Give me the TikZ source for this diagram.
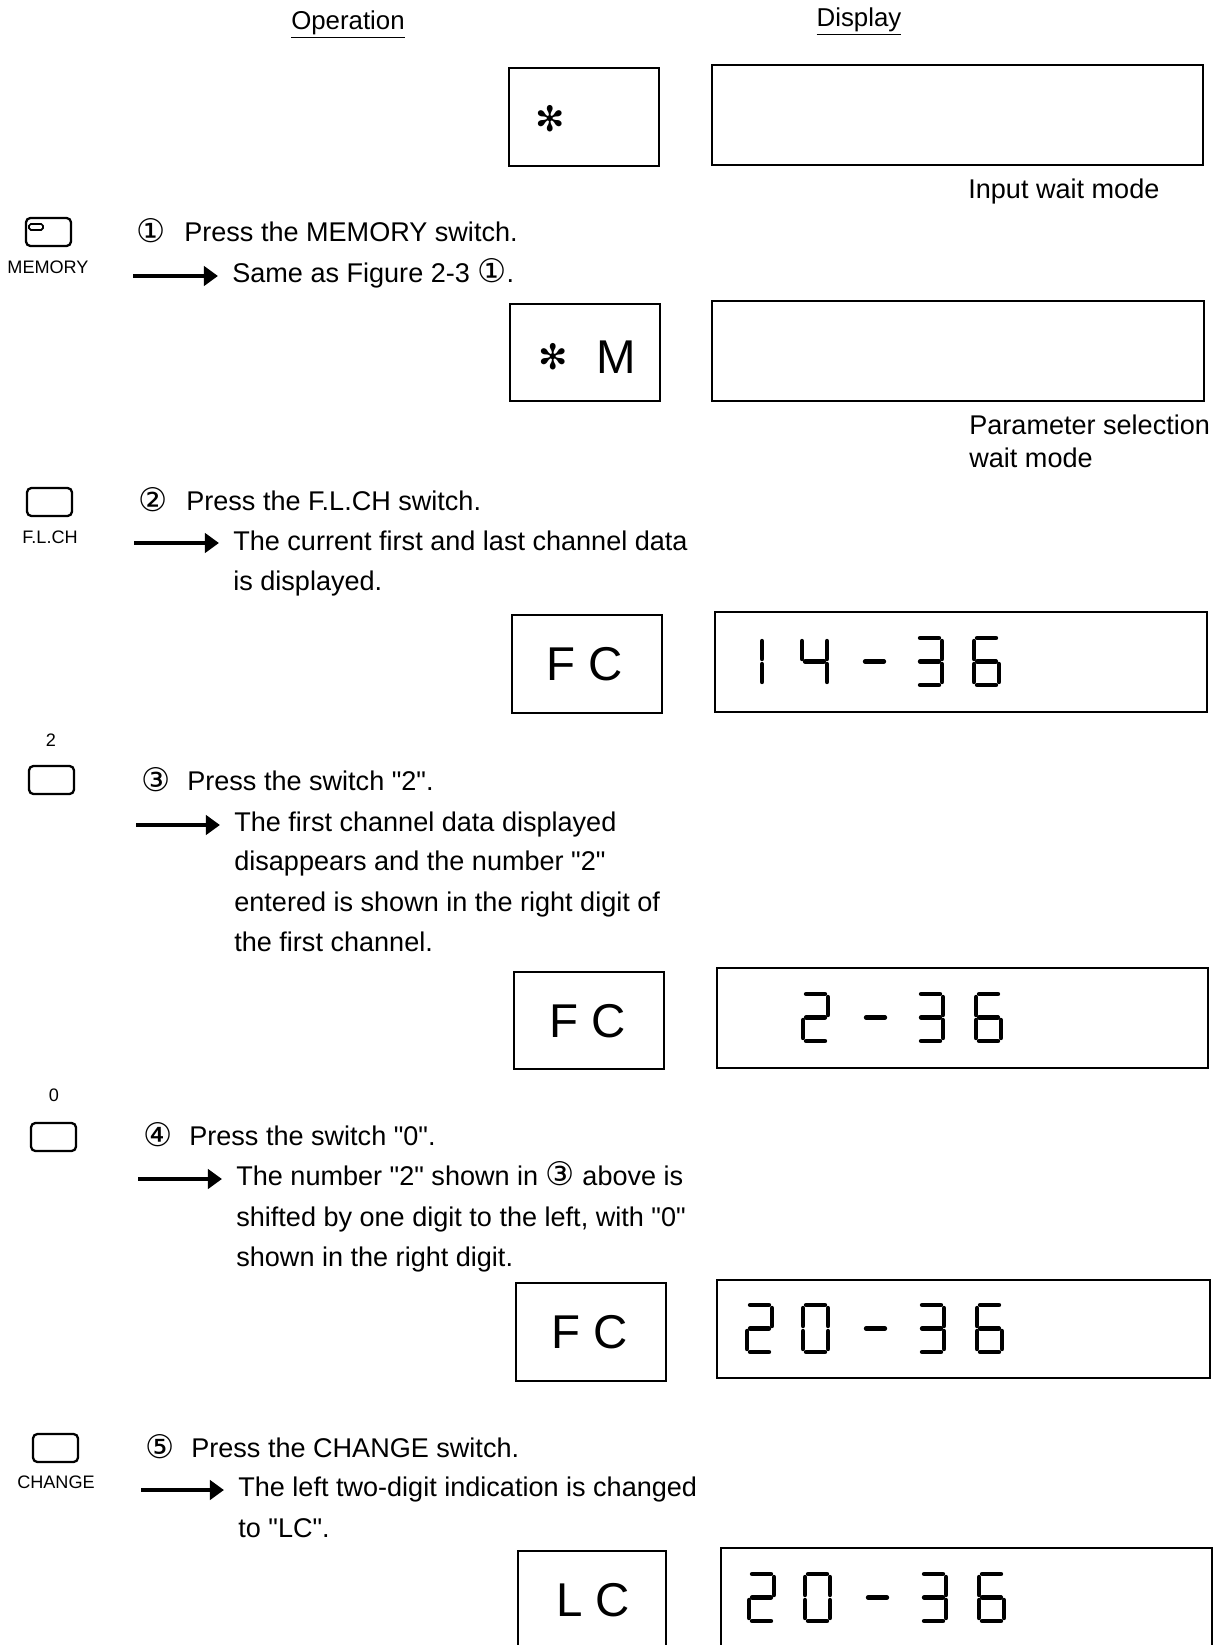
\documentclass[tikz,border=0pt]{standalone}
\usepackage{fontspec}
\setmainfont{Liberation Sans}[Ligatures=TeXOff]
\newfontfamily\dejavu{DejaVu Sans}
\usetikzlibrary{arrows.meta}

\tikzset{
	keybox/.style={draw, line width=1.3pt, rounded corners=2.5pt},
	dispbox/.style={draw, line width=1.1pt},
	segline/.style={line width=2.5pt, line cap=round},
	steparrow/.style={line width=2.3pt, shorten >=8pt, -{Triangle[length=8pt,width=11pt]}},
	steptext/.style={anchor=base west, inner sep=0pt, font=\fontsize{15.4}{18}\selectfont},
	stepnum/.style={steptext, font=\fontsize{18.5}{20}\selectfont\dejavu},
	headtext/.style={anchor=base, inner sep=0pt, font=\fontsize{14.7}{17}\selectfont},
	keylabel/.style={anchor=base, inner sep=0pt, font=\fontsize{10.3}{12}\selectfont},
	boxtext/.style={inner sep=0pt, font=\fontsize{27}{30}\selectfont},
	startext/.style={inner sep=0pt, font=\fontsize{20}{24}\selectfont\dejavu},
}

% one seven-segment digit, #1,#2 = top left of the cell, #3 = lit segments
\newcommand{\segdigit}[3]{%
	\begin{scope}[shift={(#1,#2)}]
		\coordinate (sega1) at (3,0);    \coordinate (sega2) at (22,0);
		\coordinate (segb1) at (25,3);   \coordinate (segb2) at (25,21);
		\coordinate (segc1) at (25,26);  \coordinate (segc2) at (25,44);
		\coordinate (segd1) at (3,47);   \coordinate (segd2) at (22,47);
		\coordinate (sege1) at (0,26);   \coordinate (sege2) at (0,44);
		\coordinate (segf1) at (0,3);    \coordinate (segf2) at (0,21);
		\coordinate (segg1) at (3,23.5); \coordinate (segg2) at (22,23.5);
		\foreach \s in {#3} \draw[segline] (seg\s1) -- (seg\s2);
	\end{scope}}

\begin{document}
\begin{tikzpicture}[x=0.02cm, y=-0.02cm]
	\useasboundingbox (0,0) rectangle (1216,1645);
	\clip (0,0) rectangle (1216,1645);

	% headings
	\node[headtext] (ophead) at (348,30) {\underline{Operation}};
	\node[headtext] (disphead) at (859,27) {\underline{Display}};

	% input wait mode
	\draw[dispbox] (509,68) rectangle (659,166);
	\draw[dispbox] (712,65) rectangle (1203,165);
	\node[startext] (star0) at (550,119) {✻};
	\node[steptext] (mode0) at (968,199) {Input wait mode};

	% step 1
	\draw[keybox] (26,218) rectangle (71,246);
	\draw[keybox, line width=1pt, rounded corners=1pt] (29,224) rectangle (43,230);
	\node[keylabel] (key1) at (48,274) {MEMORY};
	\node[stepnum] (num1) at (136,243) {①};
	\node[steptext] (step1) at (184,242) {Press the MEMORY switch.};
	\coordinate (arr1) at (133,276);
	\node[steptext] (res1a) at (232,283) {Same as Figure 2-3 {\dejavu\fontsize{18.5}{20}\selectfont ①}.};
	\draw[steparrow] (arr1) -- (arr1 -| res1a.west);

	\draw[dispbox] (510,304) rectangle (660,401);
	\draw[dispbox] (712,301) rectangle (1204,401);
	\node[startext] (star1) at (553,357) {✻};
	\node[boxtext] (mark1) at (616,357) {M};
	\node[steptext] (mode1a) at (969,435) {Parameter selection};
	\node[steptext] (mode1b) at (969,467) {wait mode};

	% step 2
	\draw[keybox] (27,488) rectangle (72,516);
	\node[keylabel] (key2) at (50,543) {F.L.CH};
	\node[stepnum] (num2) at (138,511) {②};
	\node[steptext] (step2) at (186,510) {Press the F.L.CH switch.};
	\coordinate (arr2) at (134,543);
	\node[steptext] (res2a) at (233,550) {The current first and last channel data};
	\node[steptext] (res2b) at (233,590) {is displayed.};
	\draw[steparrow] (arr2) -- (arr2 -| res2a.west);

	\draw[dispbox] (512,615) rectangle (662,713);
	\draw[dispbox] (715,612) rectangle (1207,712);
	\node[boxtext] (mark2) at (585,664) {F C};
	\segdigit{737}{638}{b,c}
	\segdigit{802}{638}{f,g,b,c}
	\segdigit{862}{638}{g}
	\segdigit{917}{638}{a,b,c,d,g}
	\segdigit{974}{638}{a,f,g,e,c,d}

	% step 3
	\node[keylabel] (key3top) at (51,746) {2};
	\draw[keybox] (29,766) rectangle (74,794);
	\node[stepnum] (num3) at (141,791) {③};
	\node[steptext] (step3) at (187,790) {Press the switch "2".};
	\coordinate (arr3) at (136,825);
	\node[steptext] (res3a) at (234,831) {The first channel data displayed};
	\node[steptext] (res3b) at (234,870) {disappears and the number "2"};
	\node[steptext] (res3c) at (234,911) {entered is shown in the right digit of};
	\node[steptext] (res3d) at (234,951) {the first channel.};
	\draw[steparrow] (arr3) -- (arr3 -| res3a.west);

	\draw[dispbox] (514,972) rectangle (664,1069);
	\draw[dispbox] (717,968) rectangle (1208,1068);
	\node[boxtext] (mark3) at (588,1021) {F C};
	\segdigit{803}{994}{a,b,g,e,d}
	\segdigit{863}{994}{g}
	\segdigit{918}{994}{a,b,c,d,g}
	\segdigit{976}{994}{a,f,g,e,c,d}

	% step 4
	\node[keylabel] (key4top) at (54,1101) {0};
	\draw[keybox] (31,1123) rectangle (76,1151);
	\node[stepnum] (num4) at (143,1146) {④};
	\node[steptext] (step4) at (189,1145) {Press the switch "0".};
	\coordinate (arr4) at (138,1179);
	\node[steptext] (res4a) at (236,1185) {The number "2" shown in {\dejavu\fontsize{18.5}{20}\selectfont ③} above is};
	\node[steptext] (res4b) at (236,1226) {shifted by one digit to the left, with "0"};
	\node[steptext] (res4c) at (236,1266) {shown in the right digit.};
	\draw[steparrow] (arr4) -- (arr4 -| res4a.west);

	\draw[dispbox] (516,1283) rectangle (666,1381);
	\draw[dispbox] (717,1280) rectangle (1210,1378);
	\node[boxtext] (mark4) at (590,1332) {F C};
	\segdigit{747}{1305}{a,b,g,e,d}
	\segdigit{803}{1305}{a,b,c,d,e,f}
	\segdigit{863}{1305}{g}
	\segdigit{919}{1305}{a,b,c,d,g}
	\segdigit{977}{1305}{a,f,g,e,c,d}

	% step 5
	\draw[keybox] (33,1434) rectangle (78,1462);
	\node[keylabel] (key5) at (56,1488) {CHANGE};
	\node[stepnum] (num5) at (145,1458) {⑤};
	\node[steptext] (step5) at (191,1457) {Press the CHANGE switch.};
	\coordinate (arr5) at (141,1490);
	\node[steptext] (res5a) at (238,1496) {The left two-digit indication is changed};
	\node[steptext] (res5b) at (238,1537) {to "LC".};
	\draw[steparrow] (arr5) -- (arr5 -| res5a.west);

	\draw[dispbox] (518,1551) rectangle (666,1660);
	\draw[dispbox] (721,1548) rectangle (1212,1660);
	\node[boxtext] (mark5) at (593,1600) {L C};
	\segdigit{749}{1574}{a,b,g,e,d}
	\segdigit{805}{1574}{a,b,c,d,e,f}
	\segdigit{865}{1574}{g}
	\segdigit{921}{1574}{a,b,c,d,g}
	\segdigit{979}{1574}{a,f,g,e,c,d}
\end{tikzpicture}
\end{document}
